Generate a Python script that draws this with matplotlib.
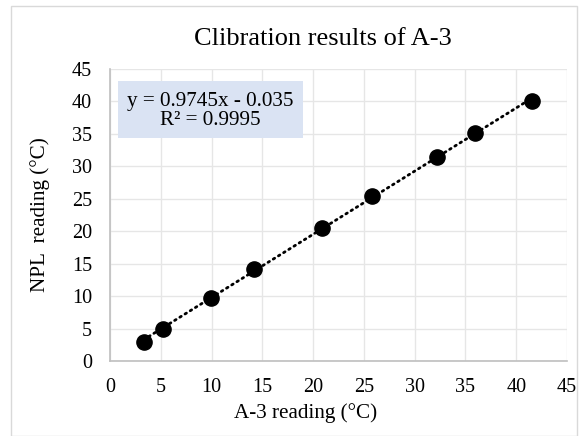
import numpy as np
import matplotlib
matplotlib.use("Agg")
import matplotlib.pyplot as plt
from matplotlib.patches import Rectangle

# ============================
# DATA
# ============================

a3_reading = [3.3, 5.2, 9.9, 14.2, 20.9, 25.8, 32.2, 35.9, 41.6]
npl_reading = [2.9, 5.0, 9.7, 14.2, 20.5, 25.5, 31.5, 35.2, 40.0]
x_ticks = [0, 5, 10, 15, 20, 25, 30, 35, 40, 45]
y_ticks = [0, 5, 10, 15, 20, 25, 30, 35, 40, 45]
eq_text = "y = 0.9745x - 0.035\nR² = 0.9995"

plt.rcParams["font.family"] = ["Liberation Serif", "DejaVu Serif"]

W, H = 582, 436

# ============================
# PLOT
# ============================

fig = plt.figure(figsize=(W / 100, H / 100), dpi=100)
ax = fig.add_axes([110 / W, 1 - 361 / H, 457 / W, 292 / H])

# chart area border
fig.patches.append(Rectangle((11 / W, 0.0), 566 / W, 1 - 6 / H, transform=fig.transFigure,
                             fill=False, edgecolor="#d9d9d9", linewidth=1.0))

# trendline
coef = np.polyfit(a3_reading, npl_reading, 1)
xs = np.array([min(a3_reading), max(a3_reading)])
ax.plot(xs, np.polyval(coef, xs), color="black", linewidth=2.0,
        linestyle=(0, (0.6, 1.6)), dash_capstyle="round", zorder=2)

ax.scatter(a3_reading, npl_reading, s=120, color="black", zorder=3)

ax.set_xlim(0, 45)
ax.set_ylim(0, 45)
ax.set_xticks(x_ticks)
ax.set_yticks(y_ticks)
ax.grid(True, color="#e6e6e6", linewidth=1.0)
ax.set_axisbelow(True)
for s in ["top", "right"]:
    ax.spines[s].set_visible(False)
for s in ["left", "bottom"]:
    ax.spines[s].set_color("#bfbfbf")
    ax.spines[s].set_linewidth(1.2)
ax.tick_params(axis="x", length=0, labelsize=14.5, pad=12)
ax.tick_params(axis="y", length=0, labelsize=14.5, pad=13)

# titles
fig.text(323 / W, 1 - 45 / H, "Clibration results of A-3", fontsize=19,
         ha="center", va="baseline")
fig.text(306 / W, 1 - 418 / H, "A-3 reading (°C)", fontsize=15.2,
         ha="center", va="baseline")
fig.text(40 / W, 1 - 215 / H, "NPL  reading (°C)", fontsize=15.2,
         ha="center", va="center", rotation=90)

# equation box
fig.patches.append(Rectangle((118 / W, 1 - 138 / H), 185 / W, 57 / H,
                             transform=fig.transFigure, facecolor="#dae3f3",
                             edgecolor="none", zorder=3))
fig.text(210 / W, 1 - 111 / H, eq_text, fontsize=15.2, ha="center", va="center",
         linespacing=1.05, zorder=4)

plt.savefig("out.png", dpi=100)
